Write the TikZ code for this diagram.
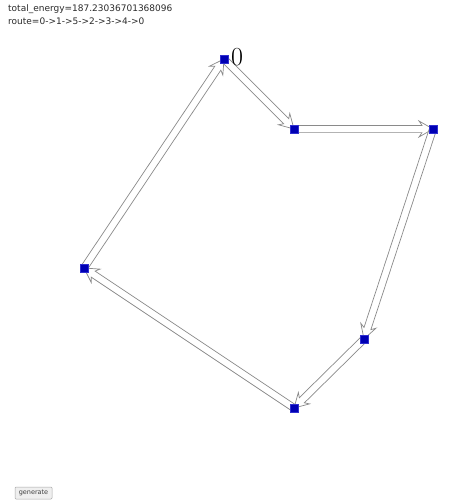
\documentclass[tikz,border=0pt]{standalone}
\usepackage{fontspec}
\setmainfont{DejaVu Sans}
\newfontfamily\digitfont{Latin Modern Roman}
\usetikzlibrary{calc}
\definecolor{stopfill}{HTML}{0000B4}
\definecolor{stopline}{HTML}{3030D0}
\definecolor{arcline}{HTML}{8A8A8A}
\definecolor{infotext}{HTML}{2A2A2A}
\definecolor{btnfill}{HTML}{EFEFEF}
\definecolor{btnline}{HTML}{A8A8A8}
\pgfdeclarelayer{background}
\pgfsetlayers{background,main}
\tikzset{
  stop/.style={rectangle, draw=stopline, fill=stopfill, line width=0.4pt, inner sep=0pt, minimum size=8pt},
  routearc/.style={draw=arcline, fill=white, line width=0.7pt, line join=miter},
  info/.style={font=\fontsize{9}{11}\selectfont, text=infotext, anchor=base west, inner sep=0pt},
  stoplbl/.style={font=\digitfont\fontsize{26}{28}\selectfont, anchor=base west, inner sep=0pt},
  btn/.style={draw=btnline, fill=btnfill, rounded corners=1pt, line width=0.5pt, inner sep=0pt,
    minimum width=37pt, minimum height=12pt, font=\fontsize{6.5}{7}\selectfont, text=black!75},
}
% hollow block arrow from #1 to #2
\newcommand{\routearc}[2]{%
  \coordinate (h) at ($(#2.center)!11pt!(#1.center)$);
  \coordinate (k) at ($(#2.center)!14pt!(#1.center)$);
  \draw[routearc] ($(#1.center)!3.6pt!90:(#2.center)$) -- ($(h)!3.6pt!90:(#2.center)$)
    -- ($(k)!8pt!90:(#2.center)$) -- (#2.center) -- ($(k)!8pt!-90:(#2.center)$)
    -- ($(h)!3.6pt!-90:(#2.center)$) -- ($(#1.center)!3.6pt!-90:(#2.center)$) -- cycle;
}

\begin{document}
\begin{tikzpicture}[x=1pt,y=-1pt]
  \useasboundingbox (0,0) rectangle (472,504);
  \node[info] (energy) at (8,11) {total\_energy=187.23036701368096};
  \node[info] (route) at (8,24) {route=0->1->5->2->3->4->0};
  % stops
  \node[stop] (s0) at (224,59) {};
  \node[stop] (s1) at (294,129) {};
  \node[stop] (s5) at (433,129) {};
  \node[stop] (s2) at (364,339) {};
  \node[stop] (s3) at (294,408) {};
  \node[stop] (s4) at (84,268) {};
  \node[stoplbl] (l0) at (231,65) {0};
  % route
  \begin{pgfonlayer}{background}
    \routearc{s0}{s1}
    \routearc{s1}{s5}
    \routearc{s5}{s2}
    \routearc{s2}{s3}
    \routearc{s3}{s4}
    \routearc{s4}{s0}
  \end{pgfonlayer}
  \node[btn] (gen) at (33.5,493) {generate};
\end{tikzpicture}
\end{document}
